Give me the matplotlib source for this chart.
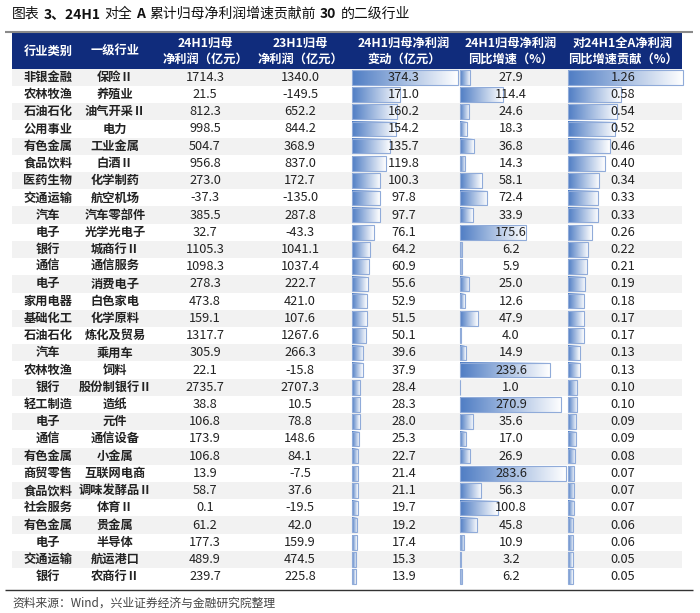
import matplotlib
matplotlib.use('Agg')
import matplotlib.pyplot as plt
from matplotlib.patches import Rectangle
from matplotlib.colors import LinearSegmentedColormap
import numpy as np

plt.rcParams['font.family'] = ['Noto Sans CJK SC', 'DejaVu Sans']

# Table data
sector = ['非银金融', '农林牧渔', '石油石化', '公用事业', '有色金属', '食品饮料', '医药生物', '交通运输',
          '汽车', '电子', '银行', '通信', '电子', '家用电器', '基础化工', '石油石化', '汽车', '农林牧渔',
          '银行', '轻工制造', '电子', '通信', '有色金属', '商贸零售', '食品饮料', '社会服务', '有色金属',
          '电子', '交通运输', '银行']
industry = ['保险Ⅱ', '养殖业', '油气开采Ⅱ', '电力', '工业金属', '白酒Ⅱ', '化学制药', '航空机场',
            '汽车零部件', '光学光电子', '城商行Ⅱ', '通信服务', '消费电子', '白色家电', '化学原料',
            '炼化及贸易', '乘用车', '饲料', '股份制银行Ⅱ', '造纸', '元件', '通信设备', '小金属',
            '互联网电商', '调味发酵品Ⅱ', '体育Ⅱ', '贵金属', '半导体', '航运港口', '农商行Ⅱ']
profit_24h1 = [1714.3, 21.5, 812.3, 998.5, 504.7, 956.8, 273.0, -37.3, 385.5, 32.7, 1105.3, 1098.3,
               278.3, 473.8, 159.1, 1317.7, 305.9, 22.1, 2735.7, 38.8, 106.8, 173.9, 106.8, 13.9,
               58.7, 0.1, 61.2, 177.3, 489.9, 239.7]
profit_23h1 = [1340.0, -149.5, 652.2, 844.2, 368.9, 837.0, 172.7, -135.0, 287.8, -43.3, 1041.1,
               1037.4, 222.7, 421.0, 107.6, 1267.6, 266.3, -15.8, 2707.3, 10.5, 78.8, 148.6, 84.1,
               -7.5, 37.6, -19.5, 42.0, 159.9, 474.5, 225.8]
change = [374.3, 171.0, 160.2, 154.2, 135.7, 119.8, 100.3, 97.8, 97.7, 76.1, 64.2, 60.9, 55.6, 52.9,
          51.5, 50.1, 39.6, 37.9, 28.4, 28.3, 28.0, 25.3, 22.7, 21.4, 21.1, 19.7, 19.2, 17.4, 15.3, 13.9]
yoy = [27.9, 114.4, 24.6, 18.3, 36.8, 14.3, 58.1, 72.4, 33.9, 175.6, 6.2, 5.9, 25.0, 12.6, 47.9, 4.0,
       14.9, 239.6, 1.0, 270.9, 35.6, 17.0, 26.9, 283.6, 56.3, 100.8, 45.8, 10.9, 3.2, 6.2]
contrib = [1.26, 0.58, 0.54, 0.52, 0.46, 0.40, 0.34, 0.33, 0.33, 0.26, 0.22, 0.21, 0.19, 0.18, 0.17,
           0.17, 0.13, 0.13, 0.10, 0.10, 0.09, 0.09, 0.08, 0.07, 0.07, 0.07, 0.06, 0.06, 0.05, 0.05]
headers = ['行业类别', '一级行业', '24H1归母\n净利润（亿元）', '23H1归母\n净利润（亿元）',
           '24H1归母净利润\n变动（亿元）', '24H1归母净利润\n同比增速（%）', '对24H1全A净利润\n同比增速贡献（%）']

W, H = 700, 613
fig = plt.figure(figsize=(W / 100, H / 100), dpi=100)
ax = fig.add_axes([0, 0, 1, 1])

header_color = '#102c7c'
stripe = '#f2f2f2'
text_color = '#222222'
bar_cmap = LinearSegmentedColormap.from_list('bar', ['#4f7dc4', '#ffffff'])
grad = np.linspace(0, 1, 256).reshape(1, -1)

x_left, x_right = 12, 682
col_x = [48, 115, 205, 300, 404, 511, 623]
bar_cols = [(352, 106, change), (460, 106, yoy), (568, 115, contrib)]
head_top, head_bot = 33, 68.7
row_h = 17.22
fs = 8.8

# title, mixed weight pieces
renderer = fig.canvas.get_renderer()
pieces = [('图表', 'normal', 4), ('3、24H1', 'bold', 4), ('对全', 'normal', 4), ('A', 'bold', 4),
          ('累计归母净利润增速贡献前', 'normal', 4), ('30', 'bold', 4), ('的二级行业', 'normal', 0)]
tx = 12
for s, w, gap in pieces:
    t = ax.text(tx, 14, s, fontsize=10, fontweight=w, color='#111111', va='center', ha='left')
    tx += t.get_window_extent(renderer).width + gap

# top rule and header
ax.plot([5, 693], [32, 32], color='#8a8a8a', lw=1.5, solid_capstyle='butt')
ax.add_patch(Rectangle((x_left, head_top), x_right - x_left, head_bot - head_top,
                       facecolor=header_color, edgecolor='none'))
for cx, h in zip(col_x, headers):
    ax.text(cx, (head_top + head_bot) / 2 + 0.5, h, color='white', fontsize=fs, fontweight='bold',
            ha='center', va='center', linespacing=1.35)

# rows
for i in range(len(sector)):
    top = head_bot + i * row_h
    yc = top + row_h / 2
    if i % 2 == 0:
        ax.add_patch(Rectangle((x_left, top), x_right - x_left, row_h, facecolor=stripe,
                               edgecolor='none', zorder=0))
    for x0, wmax, vals in bar_cols:
        bw = vals[i] / max(vals) * wmax
        b0, b1 = top + 1.3, top + row_h - 1.3
        ax.imshow(grad, cmap=bar_cmap, extent=[x0, x0 + bw, b1, b0], aspect='auto',
                  interpolation='bilinear', zorder=1)
        ax.add_patch(Rectangle((x0, b0), bw, b1 - b0, facecolor='none', edgecolor='#90abd9',
                               lw=0.8, zorder=1.5))
    ax.text(col_x[0], yc, sector[i], fontsize=fs, fontweight='bold', color=text_color,
            ha='center', va='center', zorder=3)
    ax.text(col_x[1], yc, industry[i], fontsize=fs, fontweight='bold', color=text_color,
            ha='center', va='center', zorder=3)
    vals_txt = [f'{profit_24h1[i]:.1f}', f'{profit_23h1[i]:.1f}', f'{change[i]:.1f}',
                f'{yoy[i]:.1f}', f'{contrib[i]:.2f}']
    for cx, s in zip(col_x[2:], vals_txt):
        ax.text(cx, yc, s, fontsize=fs + 0.4, color=text_color, ha='center', va='center', zorder=3)

# bottom rule and source
bottom = head_bot + len(sector) * row_h
ax.plot([5, 693], [bottom + 4.5, bottom + 4.5], color='#333333', lw=1.0, solid_capstyle='butt')
ax.text(12, 603, '资料来源：Wind，兴业证券经济与金融研究院整理', fontsize=8.5, color='#444444',
        ha='left', va='center')

ax.set_xlim(0, W)
ax.set_ylim(H, 0)
ax.axis('off')

fig.savefig('out.png', dpi=100, facecolor='white')
plt.close(fig)
